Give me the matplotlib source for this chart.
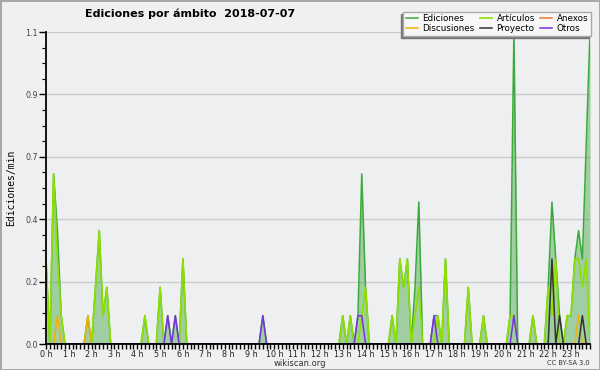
import matplotlib.pyplot as plt
import numpy as np
from matplotlib.patches import Rectangle

# 10-minute slots (0..143), values in edits/min, only non-zero slots listed
n_slots = 144
ediciones = {0: 0.3, 2: 0.6, 3: 0.4, 4: 0.1, 11: 0.1, 13: 0.2, 14: 0.4, 15: 0.1,
             16: 0.2, 26: 0.1, 30: 0.2, 32: 0.1, 34: 0.1, 36: 0.3, 57: 0.1,
             78: 0.1, 80: 0.1, 82: 0.1, 83: 0.6, 84: 0.2, 91: 0.1, 93: 0.3,
             94: 0.2, 95: 0.3, 97: 0.2, 98: 0.5, 102: 0.1, 103: 0.1, 105: 0.3,
             111: 0.2, 115: 0.1, 122: 0.1, 123: 1.1, 128: 0.1, 132: 0.2,
             133: 0.5, 134: 0.3, 135: 0.1, 137: 0.1, 138: 0.1, 139: 0.3,
             140: 0.4, 141: 0.3, 142: 0.7, 143: 1.1}
articulos = {0: 0.3, 2: 0.6, 3: 0.3, 4: 0.1, 13: 0.2, 14: 0.4, 15: 0.1, 16: 0.2,
             26: 0.1, 30: 0.2, 36: 0.3, 78: 0.1, 80: 0.1, 83: 0.1, 84: 0.2,
             91: 0.1, 93: 0.3, 94: 0.2, 95: 0.3, 97: 0.1, 98: 0.2, 103: 0.1,
             105: 0.3, 111: 0.2, 115: 0.1, 122: 0.1, 123: 0.1, 128: 0.1,
             132: 0.2, 133: 0.1, 134: 0.3, 137: 0.1, 138: 0.1, 139: 0.3,
             140: 0.3, 141: 0.2, 142: 0.3}
anexos = {}
discusiones = {3: 0.1, 11: 0.1, 140: 0.1}
proyecto = {133: 0.3, 135: 0.1, 141: 0.1}
otros = {32: 0.1, 34: 0.1, 57: 0.1, 82: 0.1, 83: 0.1, 102: 0.1, 123: 0.1}

hour_labels = [f'{h} h' for h in range(24)]
y_ticks = [0, 0.22, 0.44, 0.66, 0.88, 1.1]
y_labels = ['0.0', '0.2', '0.4', '0.7', '0.9', '1.1']


def series(d):
    v = np.zeros(n_slots)
    for k, val in d.items():
        v[k] = val
    return v


x = np.arange(n_slots)

fig = plt.figure(figsize=(6, 3.7), dpi=100)
fig.patch.set_facecolor('#f0f0f0')
fig.patch.set_edgecolor('#a8a8a8')
fig.patch.set_linewidth(2)
ax = fig.add_axes([46/600, 1-344/370, 544/600, 312/370])
ax.set_facecolor('#eeeff1')

ed = series(ediciones)
ax.fill_between(x, ed, color='#2e9a2e', alpha=0.4, lw=0)
l_ed, = ax.plot(x, ed, color='#3aaa3a', lw=1.1, label='Ediciones')
l_art, = ax.plot(x, series(articulos), color='#8fe000', lw=1.2, label='Artículos')
l_anx, = ax.plot(x, series(anexos), color='#ee7733', lw=1.1, label='Anexos')
l_dis, = ax.plot(x, series(discusiones), color='#f0b400', lw=1.1, label='Discusiones')
l_pro, = ax.plot(x, series(proyecto), color='#333333', lw=1.1, label='Proyecto')
l_otr, = ax.plot(x, series(otros), color='#7733dd', lw=1.1, label='Otros')

ax.set_xlim(0, n_slots - 1)
ax.set_ylim(0, 1.1)
ax.set_xticks(np.arange(0, n_slots, 6))
ax.set_xticklabels(hour_labels)
ax.set_xticks(x, minor=True)
ax.set_yticks(y_ticks)
ax.set_yticklabels(y_labels)
ax.set_yticks(np.arange(0, 1.1001, 0.055), minor=True)
ax.tick_params(axis='x', which='both', length=3.5, width=1, pad=0.5,
               labelsize=5.8, labelcolor='#222222')
ax.tick_params(axis='y', which='major', length=5, width=1, pad=1,
               labelsize=5.8, labelcolor='#444444')
ax.tick_params(axis='y', which='minor', length=3, width=0.8)
ax.grid(axis='y', which='major', color='#cccccc', lw=1)
ax.set_axisbelow(True)
for s in ['top', 'right']:
    ax.spines[s].set_visible(False)
for s in ['left', 'bottom']:
    ax.spines[s].set_linewidth(1.3)
    ax.spines[s].set_zorder(5)

fig.text(85/600, 0.962, 'Ediciones por ámbito  2018-07-07', fontsize=8,
         fontweight='bold', va='center', ha='left')
fig.text(0.018, 0.492, 'Ediciones/min', rotation=90, fontsize=7,
         family='DejaVu Sans Mono', va='center', ha='center')
fig.text(0.5, 0.018, 'wikiscan.org', fontsize=6, ha='center', va='center',
         color='#333333')
fig.text(0.982, 0.018, 'CC BY-SA 3.0', fontsize=4.8, ha='right', va='center',
         color='#333333')

leg = fig.legend([l_ed, l_dis, l_art, l_pro, l_anx, l_otr],
                 ['Ediciones', 'Discusiones', 'Artículos', 'Proyecto', 'Anexos', 'Otros'],
                 ncol=3, loc='upper right', bbox_to_anchor=(0.985, 0.968),
                 fontsize=6.3, frameon=True, fancybox=False, framealpha=1,
                 facecolor='#f7f7f7', edgecolor='#aaaaaa', handlelength=1.4,
                 handletextpad=0.5, columnspacing=0.6, labelspacing=0.05,
                 borderpad=0.3, borderaxespad=0)
leg.set_zorder(6)
fig.canvas.draw()
bb = leg.get_window_extent().transformed(fig.transFigure.inverted())
fig.patches.append(Rectangle((bb.x0 - 2/600, bb.y0 - 2/370), bb.width, bb.height,
                             transform=fig.transFigure, color='#777777', zorder=5))

fig.savefig('out.png', dpi=100, facecolor=fig.get_facecolor(),
            edgecolor=fig.get_edgecolor())
